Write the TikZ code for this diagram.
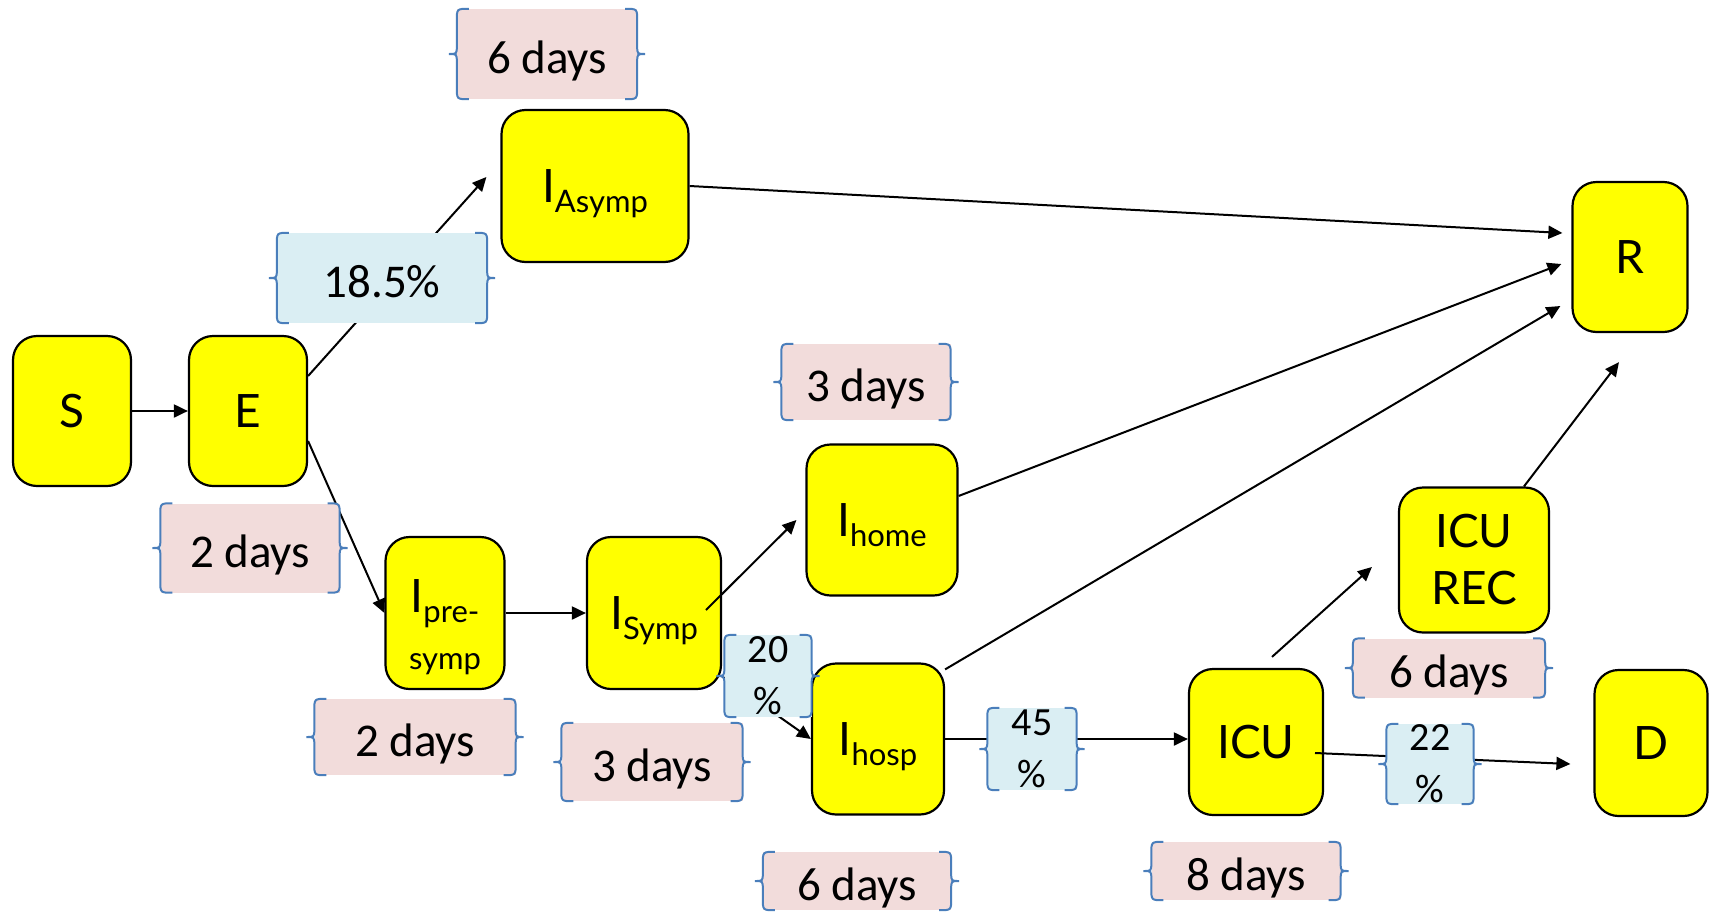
\documentclass[tikz,border=0pt]{standalone}
\usepackage{fontspec}
\setmainfont{Carlito}
\newfontfamily\boxfont{Lato}
\usetikzlibrary{arrows.meta}
\definecolor{boxyellow}{HTML}{FFFF00}
\definecolor{daypink}{HTML}{F2DCDB}
\definecolor{pctblue}{HTML}{DAEEF3}
\definecolor{bracecol}{HTML}{4A7EBB}
\newcommand\subfont{\fontsize{31}{36}\selectfont}
\newcommand\lowtext[1]{\raisebox{-10pt}{\subfont #1}}
% curly brackets on both sides of a label
\newcommand\braces[1]{%
  \draw[bracecol,line width=2pt]
    ([xshift=12pt]#1.north west) .. controls (#1.north west) .. ([yshift=-12pt]#1.north west)
    -- ([yshift=8pt]#1.west) .. controls (#1.west) .. ([xshift=-8pt]#1.west)
    .. controls (#1.west) .. ([yshift=-8pt]#1.west)
    -- ([yshift=12pt]#1.south west) .. controls (#1.south west) .. ([xshift=12pt]#1.south west)
    ([xshift=-12pt]#1.north east) .. controls (#1.north east) .. ([yshift=-12pt]#1.north east)
    -- ([yshift=8pt]#1.east) .. controls (#1.east) .. ([xshift=8pt]#1.east)
    .. controls (#1.east) .. ([yshift=-8pt]#1.east)
    -- ([yshift=12pt]#1.south east) .. controls (#1.south east) .. ([xshift=-12pt]#1.south east);}
\tikzset{
  comp/.style={draw, line width=2.2pt, fill=boxyellow, rounded corners=24pt, inner sep=0pt,
    align=center, font=\boxfont\fontsize{46}{57}\selectfont},
  onel/.style={text height=33pt, text depth=0pt},
  flow/.style={line width=2pt, -{Triangle[length=14pt,width=13pt]}},
  lbl/.style={inner sep=0pt, font=\fontsize{47}{56}\selectfont, text height=38pt, text depth=0pt},
  daybox/.style={lbl, fill=daypink},
  pctbox/.style={inner sep=0pt, fill=pctblue, align=center, font=\fontsize{40}{52}\selectfont},
}
\begin{document}
\begin{tikzpicture}[x=1pt,y=-1pt]
\useasboundingbox (0,0) rectangle (1709,911);
% compartments
\node[comp,onel,minimum width=118pt,minimum height=150pt] (S) at (72,411) {S};
\node[comp,onel,minimum width=118pt,minimum height=150pt] (E) at (248,411) {E};
\node[comp,onel,minimum width=187pt,minimum height=152pt] (Iasymp) at (595,186) {I\lowtext{Asymp}};
\node[comp,onel,minimum width=115pt,minimum height=150pt] (R) at (1630,257) {R};
\node[comp,minimum width=119pt,minimum height=152pt] (Ipre) at (445,613) {\rule{0pt}{61pt}I\lowtext{pre-}\\{\subfont symp}};
\node[comp,onel,minimum width=134pt,minimum height=152pt] (Isymp) at (654,613) {I\lowtext{Symp}};
\node[comp,onel,minimum width=151pt,minimum height=151pt] (Ihome) at (882,520) {I\lowtext{home}};
\node[comp,onel,minimum width=132pt,minimum height=151pt] (Ihosp) at (878,739) {I\lowtext{hosp}};
\node[comp,minimum width=150pt,minimum height=145pt] (ICUrec) at (1474,560) {ICU\\REC};
\node[comp,onel,minimum width=134pt,minimum height=146pt] (ICU) at (1256,742) {ICU};
\node[comp,onel,minimum width=113pt,minimum height=146pt] (D) at (1651,743) {D};
% flows
\draw[flow] (S.east) -- (E.west);
\draw[flow] ([yshift=35pt]E.east) -- ([xshift=-14pt,yshift=9pt]Iasymp.west);
\draw[flow] ([yshift=-30pt]E.east) -- (Ipre.west);
\draw[flow] (Ipre.east) -- (Isymp.west);
\draw[flow] ([xshift=52pt,yshift=3pt]Isymp.center) -- ([xshift=-9pt]Ihome.west);
\draw[flow] (Isymp.-43) -- (Ihosp.west);
\draw[flow] (Iasymp.east) -- ([xshift=-9pt,yshift=24pt]R.west);
\draw[flow] ([yshift=24pt]Ihome.east) -- ([xshift=-10pt,yshift=-7pt]R.west);
\draw[flow] ([yshift=-7pt]Ihosp.north east) -- ([xshift=-11pt,yshift=-49pt]R.west);
\draw[flow] ([xshift=50pt]ICUrec.north) -- ([xshift=-11pt,yshift=-29pt]R.south);
\draw[flow] (Ihosp.east) -- (Ihosp.east -| ICU.west);
\draw[flow] ([xshift=16pt,yshift=11pt]ICU.north) -- ([xshift=-26pt,yshift=-7pt]ICUrec.west);
\draw[flow] ([xshift=59pt,yshift=-11pt]ICU.center) -- ([xshift=-23pt,yshift=-21pt]D.west);
% durations and fractions
\node[daybox,minimum width=180pt,minimum height=90pt] (dAsymp) at (547,54) {6 days};
\node[lbl,fill=pctblue,minimum width=210pt,minimum height=90pt] (p185) at (382,278) {18.5\%};
\node[daybox,minimum width=179pt,minimum height=89pt] (dE) at (250,548) {2 days};
\node[daybox,minimum width=201pt,minimum height=76pt] (dPre) at (415,737) {2 days};
\node[daybox,minimum width=181pt,minimum height=78pt] (dSymp) at (652,762) {3 days};
\node[daybox,minimum width=169pt,minimum height=76pt] (dHome) at (866,382) {3 days};
\node[daybox,minimum width=188pt,minimum height=58pt] (dHosp) at (857,881) {6 days};
\node[pctbox,minimum width=87pt,minimum height=82pt] (p20) at (768,676) {20\\\%};
\node[pctbox,minimum width=89pt,minimum height=82pt] (p45) at (1032,749) {45\\\%};
\node[pctbox,minimum width=87pt,minimum height=80pt] (p22) at (1430,764) {22\\\%};
\node[daybox,minimum width=192pt,minimum height=59pt] (dRec) at (1449,668) {6 days};
\node[daybox,minimum width=189pt,minimum height=58pt] (dICU) at (1246,871) {8 days};
\foreach \lab in {dAsymp,p185,dE,dPre,dSymp,dHome,dHosp,p20,p45,p22,dRec,dICU}
  \braces{\lab};
\end{tikzpicture}
\end{document}
